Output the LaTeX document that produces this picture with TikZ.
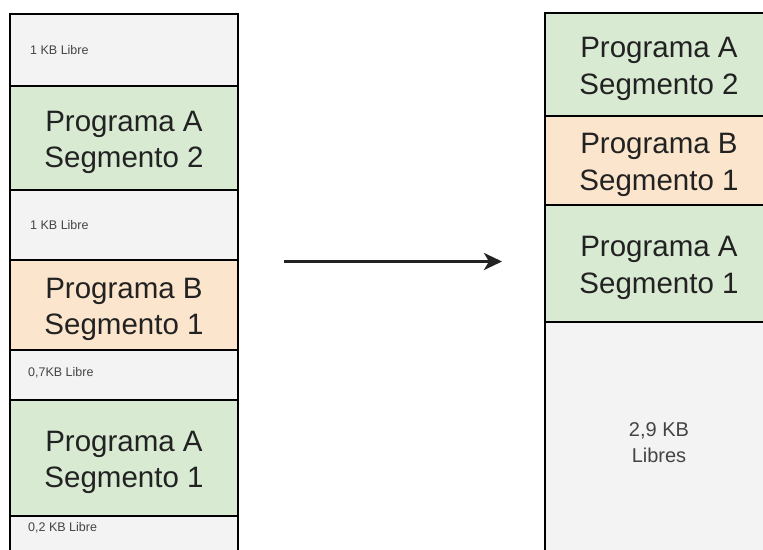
\documentclass[tikz,border=0pt]{standalone}
\usepackage{fontspec}
\setmainfont{Liberation Sans}
\usetikzlibrary{arrows.meta}
\definecolor{segA}{HTML}{D9EAD3}
\definecolor{segB}{HTML}{FCE5CD}
\definecolor{freeb}{HTML}{F3F3F3}
\definecolor{ink}{HTML}{222222}
\definecolor{soft}{HTML}{444444}

\begin{document}
\begin{tikzpicture}[x=1pt,y=-1pt,
  block/.style={draw=black, line width=1.8pt, minimum width=228pt,
    inner sep=0pt, outer sep=0pt},
  progA/.style={block, fill=segA},
  progB/.style={block, fill=segB},
  freeblk/.style={block, fill=freeb},
  segtxt/.style={inner sep=0pt, text=ink, align=center,
    font=\fontsize{29.5}{36.5}\selectfont},
  freelbl/.style={anchor=west, inner sep=0pt, text=soft,
    font=\fontsize{12.5}{15}\selectfont},
  bigfree/.style={inner sep=0pt, text=soft, align=center,
    font=\fontsize{20}{26}\selectfont},
  move/.style={line width=3pt, draw=ink,
    -{Stealth[length=18pt, width=17pt, inset=5pt]}}
]
\useasboundingbox (0,0) rectangle (763,549);
\clip (0,0) rectangle (763,549);

% memory before compaction
\node[freeblk, minimum height=72pt]  (f1) at (124,50)  {};
\node[progA,   minimum height=104pt] (a2) at (124,138) {};
\node[freeblk, minimum height=70pt]  (f2) at (124,225) {};
\node[progB,   minimum height=90pt]  (b1) at (124,305) {};
\node[freeblk, minimum height=50pt]  (f3) at (124,375) {};
\node[progA,   minimum height=116pt] (a1) at (124,458) {};
\node[freeblk, minimum height=54pt]  (f4) at (124,543) {};

\node[segtxt] (a2t) at ([yshift=-4.5pt]a2.center) {Programa A\\Segmento 2};
\node[segtxt] (b1t) at ([yshift=-4.5pt]b1.center) {Programa B\\Segmento 1};
\node[segtxt] (a1t) at ([yshift=-4.5pt]a1.center) {Programa A\\Segmento 1};

\node[freelbl] (t1) at (30,50)  {1 KB Libre};
\node[freelbl] (t2) at (30,225) {1 KB Libre};
\node[freelbl] (t3) at (28,373) {0,7KB Libre};
\node[freelbl] (t4) at (28,528) {0,2 KB Libre};

% memory after compaction
\node[progA,   minimum height=103pt] (ra2) at (659,64.5)  {};
\node[progB,   minimum height=89pt]  (rb1) at (659,160.5) {};
\node[progA,   minimum height=117pt] (ra1) at (659,263.5) {};
\node[freeblk, minimum height=238pt] (rf)  at (659,441)   {};

\node[segtxt] (ra2t) at ([yshift=-4.5pt]ra2.center) {Programa A\\Segmento 2};
\node[segtxt] (rb1t) at ([yshift=-4.5pt]rb1.center) {Programa B\\Segmento 1};
\node[segtxt] (ra1t) at ([yshift=-4.5pt]ra1.center) {Programa A\\Segmento 1};
\node[bigfree] (rt) at ([yshift=-1.5pt]rf.center) {2,9 KB\\Libres};

% compaction arrow
\coordinate (from) at (284,261.5);
\coordinate (to)   at (502,261.5);
\draw[move] (from) -- (to);
\end{tikzpicture}
\end{document}
